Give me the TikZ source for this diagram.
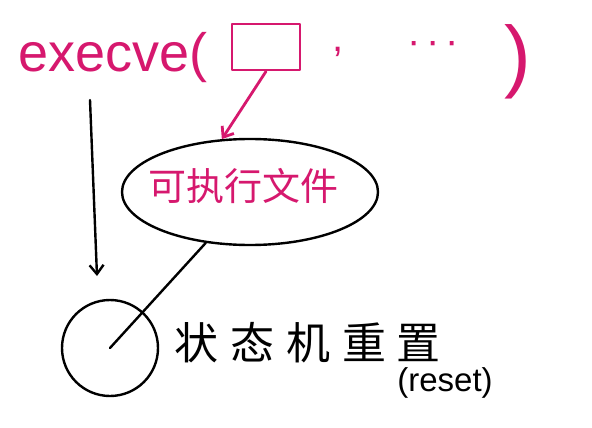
\documentclass[tikz,border=0pt]{standalone}
\usepackage{fontspec}
\setmainfont{Liberation Sans}
\newfontfamily\cjk{Noto Sans CJK SC}
\usetikzlibrary{arrows.meta,shapes.geometric}
\definecolor{pen}{RGB}{214,24,110}
\begin{document}
\begin{tikzpicture}[x=1pt,y=-1pt,
  pentext/.style={text=pen,inner sep=0pt},
  blacktext/.style={text=black,inner sep=0pt},
  penline/.style={draw=pen,line width=2.8pt,line cap=round,line join=round},
  inkline/.style={draw=black,line width=2.4pt,line cap=round,line join=round},
  tip/.style={-{Straight Barb[length=9pt,width=14pt]}}]
\fill[white] (0,0) rectangle (592,428);
\useasboundingbox (0,0) rectangle (592,428);
% top line
\node[pentext,anchor=base west,font=\fontsize{54}{54}\selectfont] (exec) at (18,72) {execve(};
\node[penline,minimum width=68pt,minimum height=46pt,inner sep=0pt] (box) at (266,47) {};
\node[pentext,font=\fontsize{40}{40}\selectfont] (comma) at (338,52) {,};
\node[pentext,font=\fontsize{40}{40}\selectfont] (dots) at (433,48) {·\hspace{6pt}·\hspace{6pt}·};
\node[pentext,font=\fontsize{80}{80}\selectfont] (close) at (518,62) {)};
% ellipse
\node[inkline,ellipse,minimum width=256pt,minimum height=106pt] (file) at (250,192) {};
\node[pentext,font=\fontsize{38}{38}\selectfont\cjk] (filetext) at (243,186) {可执行文件};
\draw[penline,tip] (box.south) -- (file.118);
% circle
\node[inkline,circle,minimum size=96pt,inner sep=0pt] (circ) at (110,348) {};
\coordinate (vtop) at (90,100);
\coordinate (vend) at (97,276);
\draw[inkline,tip] (vtop) -- (vend);
\draw[inkline] (file.229) -- (circ.center);
% labels
\node[blacktext,anchor=west,font=\fontsize{44}{44}\selectfont\cjk] (state) at (174,343) {状\hspace{12pt}态\hspace{12pt}机\hspace{12pt}重\hspace{10pt}置};
\node[blacktext,font=\fontsize{33}{33}\selectfont] (reset) at (445,383) {(reset)};
\end{tikzpicture}
\end{document}
